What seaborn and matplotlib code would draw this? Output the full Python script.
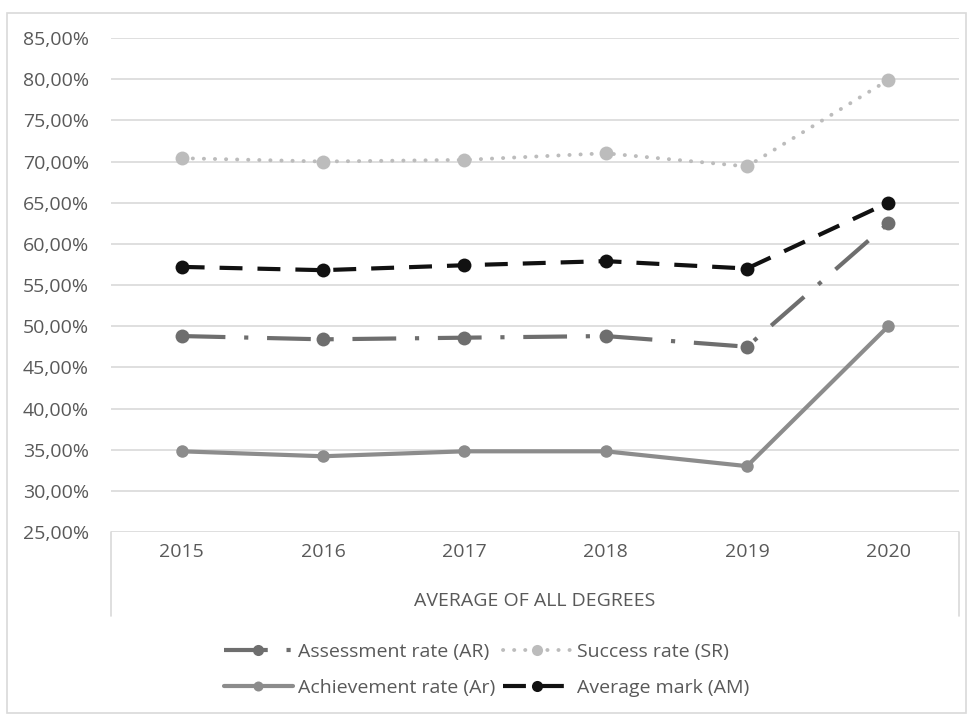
import matplotlib
matplotlib.use("Agg")
import matplotlib.pyplot as plt
from matplotlib.patches import Rectangle
from matplotlib.lines import Line2D
import seaborn as sns
import pandas as pd

# Yearly rates, averaged over all degrees (percent)
years = ["2015", "2016", "2017", "2018", "2019", "2020"]
assessment_rate = [48.8, 48.4, 48.6, 48.8, 47.5, 62.5]
success_rate = [70.4, 70.0, 70.2, 71.0, 69.4, 79.9]
achievement_rate = [34.8, 34.2, 34.8, 34.8, 33.0, 50.0]
average_mark = [57.2, 56.8, 57.4, 57.9, 57.0, 65.0]

series_names = ["Assessment rate (AR)", "Success rate (SR)",
                "Achievement rate (Ar)", "Average mark (AM)"]
y_ticks = [25, 30, 35, 40, 45, 50, 55, 60, 65, 70, 75, 80, 85]
axis_title = "AVERAGE OF ALL DEGREES"

sns.set_style("white")
plt.rcParams["font.family"] = ["Open Sans", "DejaVu Sans"]

text_color = "#595959"
grid_color = "#d9d9d9"
fs = 14

fig = plt.figure(figsize=(9.74, 7.17), dpi=100)
ax = fig.add_axes([111 / 974, 1 - 532 / 717, 848 / 974, 494 / 717])

pos = list(range(len(years)))
frames = {
    series_names[0]: assessment_rate,
    series_names[1]: success_rate,
    series_names[2]: achievement_rate,
    series_names[3]: average_mark,
}

styles = {
    series_names[0]: dict(color="#6e6e6e", lw=3.0, ls=(0, (10.5, 4.5, 1, 4.5)),
                          ms=10, cap="butt"),
    series_names[1]: dict(color="#bcbcbc", lw=2.8, ls=(0, (0.05, 2.8)),
                          ms=10, cap="round"),
    series_names[2]: dict(color="#8c8c8c", lw=3.0, ls="-", ms=9, cap="butt"),
    series_names[3]: dict(color="#111111", lw=3.0, ls=(0, (5.5, 3.6)),
                          ms=10, cap="butt"),
}

handles = {}
for name, vals in frames.items():
    st = styles[name]
    df = pd.DataFrame({"x": pos, "y": vals})
    sns.lineplot(data=df, x="x", y="y", ax=ax, color=st["color"],
                 linewidth=st["lw"], marker="o", markersize=st["ms"],
                 markeredgewidth=0, legend=False)
    line = ax.lines[-1]
    line.set_linestyle(st["ls"])
    line.set_dash_capstyle(st["cap"])
    handles[name] = Line2D([], [], color=st["color"], lw=st["lw"],
                           ls=st["ls"], marker="o", markersize=st["ms"] * 0.8,
                           markeredgewidth=0, dash_capstyle=st["cap"])

ax.set_xlim(-0.5, len(years) - 0.5)
ax.set_ylim(25, 85)
ax.set_yticks(y_ticks)
ax.set_yticklabels([f"{v:.2f}%".replace(".", ",") for v in y_ticks])
ax.set_xticks(pos)
ax.set_xticklabels(years)
ax.yaxis.grid(True, color=grid_color, lw=1.2)
ax.xaxis.grid(False)
for sp in ax.spines.values():
    sp.set_visible(False)
ax.tick_params(axis="y", length=0, pad=16, labelsize=fs, labelcolor=text_color)
ax.tick_params(axis="x", length=0, pad=8, labelsize=fs, labelcolor=text_color)
ax.set_ylabel("")
ax.set_xlabel(axis_title, fontsize=fs, color=text_color, labelpad=22)

# group separators of the category axis
for xa in (0, 1):
    ax.plot([xa, xa], [0, -0.17], transform=ax.transAxes, clip_on=False,
            color=grid_color, lw=1.2)

order = [series_names[0], series_names[2], series_names[1], series_names[3]]
fig.legend([handles[n] for n in order], order, loc="center",
           bbox_to_anchor=(0.5, 1 - 670 / 717), ncol=2, frameon=False,
           fontsize=fs, labelcolor=text_color, handlelength=3.5,
           handletextpad=0.3, columnspacing=0.4, labelspacing=0.95)

fig.patches.append(Rectangle((7 / 974, 4 / 717), 959 / 974, 700 / 717,
                             transform=fig.transFigure, fill=False,
                             edgecolor=grid_color, lw=1.2))

fig.savefig("out.png", dpi=100)
